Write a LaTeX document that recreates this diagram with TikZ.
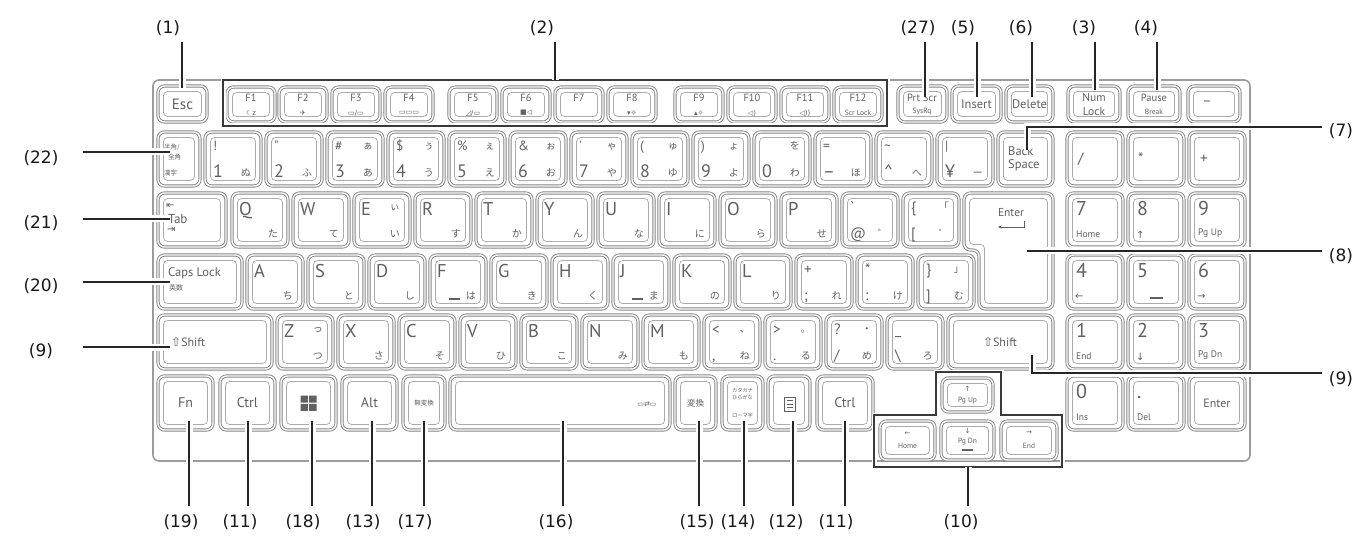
\documentclass[tikz,border=0pt]{standalone}
\usepackage{fontspec}
\setmainfont{DejaVu Sans}
\newfontfamily\lgf{PT Sans}
\newfontfamily\jpf{Noto Sans CJK JP}
\newfontfamily\dvf{DejaVu Sans}
\usetikzlibrary{arrows.meta}
\definecolor{kline}{HTML}{858585}
\definecolor{kinner}{HTML}{ABABAB}
\definecolor{legc}{HTML}{606060}
\definecolor{frm}{HTML}{9C9C9C}
\definecolor{ldc}{HTML}{262626}
\definecolor{boxc}{HTML}{3A3A3A}
\newcommand\fs[1]{\fontsize{#1}{#1}\selectfont}
\tikzset{
  keyb/.style={draw=kline, line width=0.9pt, double=white, double distance=1.4pt, rounded corners=6.5pt, inner sep=0pt, outer sep=0pt,
    path picture={\draw[kinner, line width=0.75pt, rounded corners=4pt]
      ([shift={(5.5pt,5.5pt)}]path picture bounding box.south west) rectangle
      ([shift={(-5.5pt,-5.5pt)}]path picture bounding box.north east);}},
  kpath/.style={draw=kline, line width=0.9pt, double=white, double distance=1.4pt, rounded corners=6.5pt},
  kinpath/.style={draw=kinner, line width=0.75pt, rounded corners=4pt},
  lgbase/.style={inner sep=0pt, text=legc},
  big/.style={lgbase, font=\lgf\fs{18.5}, text height=13pt, text depth=0pt},
  dig/.style={lgbase, font=\lgf\fs{18}, text height=12.5pt, text depth=0pt},
  sym/.style={lgbase, font=\lgf\fs{13.5}, text height=9.5pt, text depth=0pt},
  sym2/.style={lgbase, font=\lgf\fs{15}, text height=10.5pt, text depth=0pt},
  kana/.style={lgbase, font=\jpf\fs{10}, text height=8.5pt, text depth=1pt},
  npd/.style={lgbase, font=\lgf\fs{20}, text height=14pt, text depth=0pt},
  mid/.style={lgbase, font=\lgf\fs{14}},
  sml/.style={lgbase, font=\lgf\fs{9.5}},
  tiny/.style={lgbase, font=\lgf\fs{7.5}},
  jtiny/.style={lgbase, font=\jpf\fs{6.5}},
  ico/.style={lgbase, font=\dvf\fs{7}},
  arr/.style={lgbase, font=\dvf\fs{10}},
  frame/.style={draw=frm, line width=1.6pt, rounded corners=6pt},
  dbox/.style={draw=boxc, line width=1.5pt, preaction={draw=white, line width=5pt}},
  ldr/.style={draw=ldc, line width=1.3pt, preaction={draw=white, line width=7pt}},
  lab/.style={font=\dvf\fs{17}, text=black!90, inner sep=0pt},
  bump/.style={draw=legc, line width=2.2pt},
}
\newcommand\mkkey[5]{\node[keyb, minimum width={(#4)-(#2)}, minimum height={(#5)-(#3)}] (#1) at ({((#2)+(#4))/2},{((#3)+(#5))/2}) {};}
\newcommand\LKey[5]{\mkkey{#1}{#2}{#3}{#2+56}{#3+54}%
 \node[big, anchor=north west] (#1-l) at ([shift={(7pt,-9pt)}]#1.north west) {#4};%
 \node[kana, anchor=south east] (#1-k) at ([shift={(-10pt,8pt)}]#1.south east) {#5};}
\newcommand\QKey[9]{\mkkey{#1}{#2}{#3}{#2+56}{#3+54}%
 \node[#8, anchor=north west] (#1-tl) at ([shift={(8pt,-9pt)}]#1.north west) {#4};%
 \node[kana, anchor=north east] (#1-tr) at ([shift={(-10pt,-9pt)}]#1.north east) {#5};%
 \node[#9, anchor=south west] (#1-bl) at ([shift={(8pt,8pt)}]#1.south west) {#6};%
 \node[kana, anchor=south east] (#1-br) at ([shift={(-10pt,8pt)}]#1.south east) {#7};}
\newcommand\NPKey[5]{\mkkey{#1}{#2}{#3}{#2+56}{#3+54}%
 \node[npd, anchor=north west] (#1-m) at ([shift={(9pt,-8pt)}]#1.north west) {#4};%
 \node[sml, anchor=south west] (#1-s) at ([shift={(9pt,9pt)}]#1.south west) {#5};}
\newcommand\FKey[4]{\mkkey{#1}{#2}{87}{#2+48}{122}%
 \node[sml, font=\lgf\fs{10.5}] (#1-t) at ([yshift=-11pt]#1.north) {#3};%
 \node[ico] (#1-i) at ([yshift=9pt]#1.south) {#4};}
\begin{document}
\begin{tikzpicture}[x=1pt,y=-1pt]
\useasboundingbox (0,0) rectangle (1361,540);
\fill[white] (0,0) rectangle (1361,540);
% keyboard frame
\draw[frame] (153,80) rectangle (1250,461);
% ---------- top row
\mkkey{esc}{158}{86}{207}{122}
\node[mid, font=\lgf\fs{15}] (esc-t) at (esc) {Esc};
\FKey{f1}{227}{F1}{☾z}
\FKey{f2}{279}{F2}{✈}
\FKey{f3}{332}{F3}{▭/▭}
\FKey{f4}{385}{F4}{▭▭▭}
\FKey{f5}{449}{F5}{◿/▭}
\FKey{f6}{502}{F6}{■◁}
\FKey{f7}{555}{F7}{}
\FKey{f8}{608}{F8}{▾☼}
\FKey{f9}{675}{F9}{▴☼}
\FKey{f10}{728}{F10}{◁)}
\FKey{f11}{781}{F11}{◁))}
\mkkey{f12}{834}{87}{882}{122}
\node[sml, font=\lgf\fs{10.5}] (f12-t) at ([yshift=-11pt]f12.north) {F12};
\node[tiny] (f12-i) at ([yshift=9pt]f12.south) {Scr Lock};
\mkkey{prt}{898}{86}{947}{122}
\node[sml, font=\lgf\fs{10.5}] (prt-a) at (922,98) {Prt Scr};
\node[tiny] (prt-b) at (922,112) {SysRq};
\mkkey{ins}{952}{86}{1001}{122}
\node[mid, font=\lgf\fs{12.5}] (ins-t) at (ins) {Insert};
\mkkey{del}{1006}{86}{1053}{122}
\node[mid, font=\lgf\fs{12.5}] (del-t) at (del) {Delete};
\mkkey{nlk}{1068}{86}{1120}{122}
\node[mid, font=\lgf\fs{11.5}] (nlk-a) at (1094,97) {Num};
\node[mid, font=\lgf\fs{11.5}] (nlk-b) at (1094,112) {Lock};
\mkkey{pau}{1128}{86}{1180}{122}
\node[mid, font=\lgf\fs{10.5}] (pau-a) at (1154,98) {Pause};
\node[tiny] (pau-b) at (1154,112) {Break};
\mkkey{nmi}{1188}{86}{1240}{122}
\node[mid, font=\lgf\fs{14}] (nmi-t) at (1207,103) {–};
% ---------- number row
\mkkey{hz}{158}{132}{200}{186}
\node[jtiny, anchor=west] (hz-a) at (164,147) {半角/};
\node[jtiny, anchor=west] (hz-b) at (168,157) {全角};
\node[jtiny, anchor=west] (hz-c) at (164,173) {漢字};
\QKey{n1}{205}{132}{!}{}{1}{ぬ}{sym}{dig}
\QKey{n2}{266}{132}{"}{}{2}{ふ}{sym}{dig}
\QKey{n3}{327}{132}{\#}{ぁ}{3}{あ}{sym}{dig}
\QKey{n4}{388}{132}{\$}{ぅ}{4}{う}{sym}{dig}
\QKey{n5}{449}{132}{\%}{ぇ}{5}{え}{sym}{dig}
\QKey{n6}{510}{132}{\&}{ぉ}{6}{お}{sym}{dig}
\QKey{n7}{571}{132}{'}{ゃ}{7}{や}{sym}{dig}
\QKey{n8}{632}{132}{(}{ゅ}{8}{ゆ}{sym}{dig}
\QKey{n9}{693}{132}{)}{ょ}{9}{よ}{sym}{dig}
\QKey{n0}{754}{132}{}{を}{0}{わ}{sym}{dig}
\QKey{nmn}{815}{132}{=}{}{–}{ほ}{sym}{dig}
\QKey{nct}{876}{132}{\char"7E}{}{\char"5E}{へ}{sym}{dig}
\QKey{nyn}{937}{132}{|}{}{¥}{ー}{sym}{dig}
\mkkey{bs}{998}{132}{1053}{186}
\node[mid, font=\lgf\fs{12.5}, anchor=west] (bs-a) at (1008,151) {Back};
\node[mid, font=\lgf\fs{12.5}, anchor=west] (bs-b) at (1008,165) {Space};
\mkkey{nsl}{1067}{132}{1123}{186}
\node[sym2, anchor=west] (nsl-t) at (1078,158) {/};
\mkkey{nas}{1128}{132}{1184}{186}
\node[sym2, anchor=west] (nas-t) at (1138,158) {*};
\mkkey{npl}{1189}{132}{1245}{186}
\node[sym2, anchor=west] (npl-t) at (1200,158) {+};
% ---------- tab row
\mkkey{tab}{158}{193}{226}{247}
\node[arr, anchor=west] (tab-a) at (166,206) {⇤};
\node[mid, font=\lgf\fs{13}, anchor=west] (tab-b) at (168,219) {Tab};
\node[arr, anchor=west] (tab-c) at (167,230) {⇥};
\LKey{kq}{232}{193}{Q}{た}
\LKey{kw}{293}{193}{W}{て}
\LKey{ke}{354}{193}{E}{い}
\node[kana, anchor=north east] (ke-s) at ([shift={(-10pt,-9pt)}]ke.north east) {ぃ};
\LKey{kr}{415}{193}{R}{す}
\LKey{kt}{476}{193}{T}{か}
\LKey{ky}{537}{193}{Y}{ん}
\LKey{ku}{598}{193}{U}{な}
\LKey{ki}{659}{193}{I}{に}
\LKey{ko}{720}{193}{O}{ら}
\LKey{kp}{781}{193}{P}{せ}
\QKey{kat}{842}{193}{`}{}{@}{゛}{sym2}{sym2}
\QKey{klb}{903}{193}{\{}{「}{[}{゜}{sym2}{sym2}
% Enter (L-shaped)
\draw[kpath] (964,193) -- (1053,193) -- (1053,309) -- (979,309) -- (979,250) -- (964,250) -- cycle;
\draw[kinpath] (969.5,198.5) -- (1047.5,198.5) -- (1047.5,303.5) -- (984.5,303.5) -- (984.5,244.5) -- (969.5,244.5) -- cycle;
\coordinate (enter) at (1008,250);
\node[mid, font=\lgf\fs{11.5}] (ent-t) at (1011,213) {Enter};
\draw[legc, line width=0.9pt, -{Stealth[length=3.5pt,width=3pt]}] (1024,221) -- (1024,227) -- (998,227);
\NPKey{p7}{1067}{193}{7}{Home}
\NPKey{p8}{1128}{193}{8}{}
\node[arr, anchor=south west] (p8-a) at ([shift={(8pt,8pt)}]p8.south west) {↑};
\NPKey{p9}{1189}{193}{9}{Pg Up}
% ---------- caps row
\mkkey{caps}{158}{255}{242}{309}
\node[mid, font=\lgf\fs{12.5}, anchor=west] (caps-a) at (168,273) {Caps Lock};
\node[jtiny, font=\jpf\fs{7}, anchor=west] (caps-b) at (169,288) {英数};
\LKey{ka}{247}{255}{A}{ち}
\LKey{ks}{308}{255}{S}{と}
\LKey{kd}{369}{255}{D}{し}
\LKey{kf}{430}{255}{F}{は}
\draw[bump] (449,299) -- (460,299);
\LKey{kg}{491}{255}{G}{き}
\LKey{kh}{552}{255}{H}{く}
\LKey{kj}{613}{255}{J}{ま}
\draw[bump] (632,299) -- (643,299);
\LKey{kk}{674}{255}{K}{の}
\LKey{kl}{735}{255}{L}{り}
\QKey{ksc}{796}{255}{+}{}{;}{れ}{sym2}{sym2}
\QKey{kco}{857}{255}{*}{}{:}{け}{sym2}{sym2}
\QKey{krb}{918}{255}{\}}{」}{]}{む}{sym2}{sym2}
\NPKey{p4}{1067}{255}{4}{}
\node[arr, anchor=south west] (p4-a) at ([shift={(8pt,9pt)}]p4.south west) {←};
\NPKey{p5}{1128}{255}{5}{}
\draw[bump] (1150,298) -- (1163,298);
\NPKey{p6}{1189}{255}{6}{}
\node[arr, anchor=south west] (p6-a) at ([shift={(8pt,9pt)}]p6.south west) {→};
% ---------- shift row
\mkkey{lsh}{158}{315}{272}{369}
\node[mid, font=\lgf\fs{12}, anchor=west] (lsh-t) at (171,342) {\dvf⇧\lgf Shift};
\LKey{kz}{277}{315}{Z}{つ}
\node[kana, anchor=north east] (kz-s) at ([shift={(-10pt,-9pt)}]kz.north east) {っ};
\LKey{kx}{338}{315}{X}{さ}
\LKey{kc}{399}{315}{C}{そ}
\LKey{kv}{460}{315}{V}{ひ}
\LKey{kb}{521}{315}{B}{こ}
\LKey{kn}{582}{315}{N}{み}
\LKey{km}{643}{315}{M}{も}
\QKey{kcm}{704}{315}{<}{、}{,}{ね}{sym2}{sym2}
\QKey{kpd}{765}{315}{>}{。}{.}{る}{sym2}{sym2}
\QKey{ksl}{826}{315}{?}{・}{/}{め}{sym2}{sym2}
\QKey{kus}{887}{315}{\_}{}{\char"5C}{ろ}{sym2}{sym2}
\mkkey{rsh}{948}{315}{1053}{369}
\node[mid, font=\lgf\fs{12}] (rsh-t) at (1000,342) {\dvf⇧\lgf Shift};
\NPKey{p1}{1067}{315}{1}{End}
\NPKey{p2}{1128}{315}{2}{}
\node[arr, anchor=south west] (p2-a) at ([shift={(8pt,8pt)}]p2.south west) {↓};
\NPKey{p3}{1189}{315}{3}{Pg Dn}
% ---------- bottom row
\mkkey{fn}{158}{376}{213}{430}
\node[mid] (fn-t) at (fn) {Fn};
\mkkey{lct}{220}{376}{275}{430}
\node[mid] (lct-t) at (lct) {Ctrl};
\mkkey{win}{281}{376}{336}{430}
\fill[legc] (300.5,395.5) rectangle (307.8,402.5) (309.2,395.5) rectangle (316.5,402.5)
            (300.5,403.9) rectangle (307.8,410.9) (309.2,403.9) rectangle (316.5,410.9);
\mkkey{alt}{342}{376}{397}{430}
\node[mid] (alt-t) at (alt) {Alt};
\mkkey{mhk}{403}{376}{445}{430}
\node[jtiny] (mhk-t) at (mhk) {無変換};
\mkkey{spc}{450}{376}{670}{430}
\node[ico] (spc-t) at (647,404) {▭⇄▭};
\mkkey{hnk}{675}{376}{716}{430}
\node[jtiny, font=\jpf\fs{8.5}] (hnk-t) at (hnk) {変換};
\mkkey{kkn}{722}{376}{763}{430}
\node[jtiny, font=\jpf\fs{5.2}] (kkn-a) at (742.5,390) {カタカナ};
\node[jtiny, font=\jpf\fs{5.2}] (kkn-b) at (742.5,397) {ひらがな};
\node[jtiny, font=\jpf\fs{5.2}] (kkn-c) at (742.5,416) {ローマ字};
\mkkey{mnu}{768}{376}{810}{430}
\draw[legc, line width=0.8pt] (784,397) rectangle (795,411);
\draw[legc, line width=0.5pt] (786.5,400.5) -- (792.5,400.5) (786.5,404) -- (792.5,404) (786.5,407.5) -- (792.5,407.5);
\mkkey{rct}{817}{376}{873}{430}
\node[mid] (rct-t) at (rct) {Ctrl};
% arrow cluster
\mkkey{pgu}{942}{378}{993}{412}
\node[arr, font=\dvf\fs{7}] (pgu-a) at (967.5,389) {↑};
\node[tiny] (pgu-b) at (967.5,401) {Pg Up};
\mkkey{hom}{880}{421}{935}{460}
\node[arr, font=\dvf\fs{7}] (hom-a) at (907.5,434) {←};
\node[tiny] (hom-b) at (907.5,446) {Home};
\mkkey{pgd}{941}{421}{994}{460}
\node[arr, font=\dvf\fs{7}] (pgd-a) at (967.5,431) {↓};
\node[tiny] (pgd-b) at (967.5,442) {Pg Dn};
\draw[bump, line width=2pt] (962,450) -- (973,450);
\mkkey{end}{1001}{421}{1057}{460}
\node[arr, font=\dvf\fs{7}] (end-a) at (1029,433) {→};
\node[tiny] (end-b) at (1029,446) {End};
\NPKey{p0}{1067}{376}{0}{Ins}
\NPKey{pdt}{1128}{376}{.}{Del}
\mkkey{pen}{1189}{376}{1245}{430}
\node[mid, font=\lgf\fs{12}] (pen-t) at (pen) {Enter};
% ---------- dark group boxes
\draw[dbox] (223,80) rectangle (887,126);
\draw[dbox] (874,415) -- (936,415) -- (936,372) -- (1001,372) -- (1001,415) -- (1062,415) -- (1062,467) -- (874,467) -- cycle;
% ---------- labels
\node[lab] (L1) at (168,28) {(1)};
\node[lab] (L2) at (542,28) {(2)};
\node[lab] (L27) at (918,28) {(27)};
\node[lab] (L5) at (963,28) {(5)};
\node[lab] (L6) at (1021,28) {(6)};
\node[lab] (L3) at (1084,28) {(3)};
\node[lab] (L4) at (1146,28) {(4)};
\node[lab] (L22) at (41,158) {(22)};
\node[lab] (L21) at (41,223) {(21)};
\node[lab] (L20) at (41,286) {(20)};
\node[lab] (L9a) at (41,351) {(9)};
\node[lab] (L7) at (1341,131) {(7)};
\node[lab] (L8) at (1341,256) {(8)};
\node[lab] (L9b) at (1341,379) {(9)};
\node[lab] (L19) at (181,522) {(19)};
\node[lab] (L11a) at (240,522) {(11)};
\node[lab] (L18) at (303,522) {(18)};
\node[lab] (L13) at (363,522) {(13)};
\node[lab] (L17) at (415,522) {(17)};
\node[lab] (L16) at (556,522) {(16)};
\node[lab] (L15) at (697,522) {(15)};
\node[lab] (L14) at (738,522) {(14)};
\node[lab] (L12) at (786,522) {(12)};
\node[lab] (L11b) at (836,522) {(11)};
\node[lab] (L10) at (961,522) {(10)};
% ---------- leaders
\foreach \n/\x/\ya/\yb in {1/182/42/88, 2/555/42/80, 27/925/42/97, 5/977/42/97, 6/1032/42/97, 3/1095/42/90, 4/1157/42/90}{
  \coordinate (ta\n) at (\x,\ya); \coordinate (tb\n) at (\x,\yb);
  \draw[ldr] (ta\n) -- (tb\n);}
\foreach \n/\y in {22/152, 21/219, 20/282, 9/347}{
  \coordinate (la\n) at (83,\y); \coordinate (lb\n) at (170,\y);
  \draw[ldr] (la\n) -- (lb\n);}
\foreach \n/\x/\ya in {19/189/421, 11a/248/421, 18/312/421, 13/372/421, 17/424/421, 16/563/421, 15/699/421, 14/744/421, 12/793/421, 11b/845/421, 10/968/467}{
  \coordinate (ba\n) at (\x,\ya); \coordinate (bb\n) at (\x,506);
  \draw[ldr] (ba\n) -- (bb\n);}
\coordinate (r7a) at (1027,150); \coordinate (r7b) at (1322,127);
\draw[ldr] (r7a) |- (r7b);
\coordinate (r8a) at (1027,251); \coordinate (r8b) at (1322,251);
\draw[ldr] (r8a) -- (r8b);
\coordinate (r9a) at (1032,355); \coordinate (r9b) at (1322,373);
\draw[ldr] (r9a) |- (r9b);
\end{tikzpicture}
\end{document}
